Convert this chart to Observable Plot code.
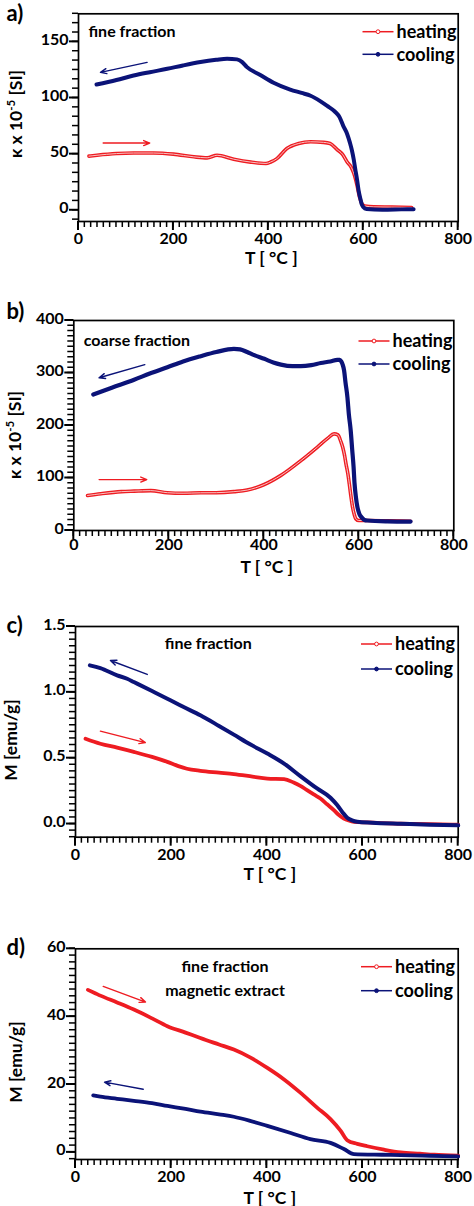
<!DOCTYPE html>
<html>
<head>
<meta charset="utf-8">
<script src="https://cdn.jsdelivr.net/npm/d3@7"></script>
<script src="https://cdn.jsdelivr.net/npm/@observablehq/plot@0.6"></script>
<style>
  html, body { margin: 0; padding: 0; background: #fff; }
  #root { width: 474px; }
  #root svg { display: block; }
</style>
</head>
<body>
<div id="root"></div>
<script>
// ---------------- data ----------------
const seriesNames = ["heating", "cooling"];
const xTicks = [0, 200, 400, 600, 800];

// a) fine fraction, susceptibility
const aHeatT = [22, 39, 80, 116, 158, 200, 243, 271, 292, 327, 363, 395, 405, 418, 439, 464, 489, 516, 530, 545, 556, 566, 575, 580, 587, 592, 597, 603, 622, 660, 702];
const aHeatK = [48.2, 49, 50.5, 51, 51, 50, 47.6, 46.7, 49, 45.5, 42.9, 41.7, 43, 46, 55, 59.5, 61, 60.5, 59.5, 54, 50, 43, 38, 33, 22, 12, 6, 3.8, 3, 2.8, 2.5];
const aCoolT = [38, 80, 116, 150, 187, 220, 257, 290, 313, 334, 345, 355, 383, 411, 446, 470, 489, 510, 524, 540, 550, 558, 566, 572, 576, 580, 583, 587, 590, 594, 597, 600, 607, 640, 680, 706];
const aCoolK = [112, 116, 120, 123, 126, 129, 132, 134, 135, 134.4, 132, 127.5, 120.5, 113.6, 107.5, 104.5, 102, 97, 93, 88, 83, 75, 68, 60, 53.5, 45, 37, 27, 18, 10, 5, 3, 1.2, 0.5, 0.8, 1];

// b) coarse fraction, susceptibility
const bHeatT = [29, 57, 100, 127, 162, 197, 230, 267, 300, 337, 365, 401, 436, 478, 513, 535, 548, 556, 562, 566, 570, 573, 577, 580, 583, 587, 590, 594, 600, 618, 660, 709];
const bHeatK = [66.7, 70, 74, 75, 76, 72, 71, 71.8, 72, 74, 77, 87.6, 105, 133, 159, 176, 184, 182, 170, 159, 143, 127, 108, 89, 68, 44, 32, 22, 19, 19, 18.5, 17.7];
const bCoolT = [41, 80, 127, 160, 197, 230, 267, 300, 337, 350, 365, 380, 401, 420, 436, 460, 478, 500, 520, 540, 555, 560, 563, 566, 569, 572, 576, 579, 583, 586, 589, 591, 594, 597, 601, 606, 612, 618, 660, 709];
const bCoolK = [259, 272, 287, 299, 311, 322, 332, 340, 346, 345, 340, 334, 327, 320, 316, 313, 313, 315, 319, 322, 325, 325, 322, 316, 305, 282, 254, 222, 190, 155, 121, 90, 63, 45, 32, 25, 20, 19, 17.5, 17];

// c) fine fraction, magnetisation
const cHeatT = [21, 52, 87, 122, 160, 192, 215, 233, 261, 300, 331, 370, 401, 436, 456, 470, 484, 498, 512, 526, 540, 550, 561, 571, 582, 610, 680, 740, 800];
const cHeatM = [0.648, 0.61, 0.58, 0.548, 0.51, 0.472, 0.44, 0.42, 0.404, 0.39, 0.379, 0.36, 0.345, 0.341, 0.315, 0.29, 0.257, 0.225, 0.194, 0.15, 0.106, 0.07, 0.042, 0.027, 0.017, 0.012, 0.002, 0, -0.005];
const cCoolT = [30, 52, 87, 108, 122, 160, 192, 225, 261, 300, 331, 365, 401, 436, 470, 505, 533, 547, 558, 568, 578, 589, 620, 680, 740, 800];
const cCoolM = [1.205, 1.184, 1.129, 1.103, 1.078, 1.01, 0.952, 0.89, 0.826, 0.745, 0.679, 0.605, 0.535, 0.459, 0.364, 0.27, 0.2, 0.144, 0.09, 0.048, 0.028, 0.017, 0.01, 0.002, -0.005, -0.01];

// d) fine fraction magnetic extract, magnetisation
const dHeatT = [26, 40, 52, 87, 122, 160, 192, 230, 261, 300, 331, 365, 401, 436, 470, 505, 533, 554, 568, 589, 610, 645, 680, 720, 750, 800];
const dHeatM = [47.9, 47, 46.2, 44.2, 42.1, 39.5, 37.2, 35.3, 33.7, 31.8, 30.3, 28, 24.9, 21.5, 17.6, 13.2, 9.8, 6.4, 3.6, 2.5, 1.8, 0.8, 0, -0.4, -0.7, -1.0];
const dCoolT = [37, 52, 87, 122, 160, 192, 230, 261, 300, 331, 365, 401, 450, 491, 533, 561, 582, 640, 680, 740, 800];
const dCoolM = [16.8, 16.4, 15.8, 15.2, 14.5, 13.7, 12.8, 12.0, 11.2, 10.5, 9.3, 7.8, 5.7, 3.9, 2.8, 1.0, -0.5, -0.7, -0.8, -1.0, -1.2];

// arrows [x1, y1, x2, y2]
const aArrowHeat = [52, 59.9, 150, 59.9];
const aArrowCool = [144.6, 131.7, 46.3, 122.8];
const bArrowHeat = [53.3, 97, 153.7, 97];
const bArrowCool = [149.5, 316, 53.3, 291];
const cArrowHeat = [52, 0.705, 146, 0.618];
const cArrowCool = [150, 1.136, 73, 1.242];
const dArrowHeat = [57.9, 48.9, 146.4, 44.3];
const dArrowCool = [141.5, 18.6, 60.6, 20.7];

const panelLetters = ["a)", "b)", "c)", "d)"];
const xTitle = "T [ \u00B0C ]";
const yTitles = [["\u03BA x 10", "-5", " [SI]"], ["\u03BA x 10", "-5", " [SI]"], ["M [emu/g]"], ["M [emu/g]"]];
const notesA = ["fine fraction"];
const notesB = ["coarse fraction"];
const notesC = ["fine fraction"];
const notesD = ["fine fraction", "magnetic extract"];

// ---------------- drawing ----------------
const FONT = "Lato, 'Open Sans', 'DejaVu Sans', sans-serif";
const RED = "#ee1c22";
const NAVY = "#0b1378";

function rows(T, V) { return T.map((t, i) => ({T: t, v: V[i]})); }
function minor(domain, step) { return d3.range(Math.ceil(domain[0] / step - 1e-9) * step, domain[1] + 1e-9, step); }

function panel(cfg) {
  const [mt, mr, mb, ml] = cfg.margin;
  const heat = rows(cfg.heatT, cfg.heatV);
  const cool = rows(cfg.coolT, cfg.coolV);
  const arrows = [
    {x1: cfg.arrowHeat[0], y1: cfg.arrowHeat[1], x2: cfg.arrowHeat[2], y2: cfg.arrowHeat[3], c: RED},
    {x1: cfg.arrowCool[0], y1: cfg.arrowCool[1], x2: cfg.arrowCool[2], y2: cfg.arrowCool[3], c: NAVY}
  ];
  const marks = [
    Plot.axisX({ticks: xTicks, tickSize: 0, tickPadding: 6 + cfg.xPad, tickFormat: d3.format("d"), label: null, fontSize: 16, fontWeight: "bold"}),
    Plot.axisY({ticks: cfg.yTicks, tickSize: 0, tickPadding: 10, tickFormat: cfg.yFormat, label: null, dy: -2, fontSize: 16, fontWeight: "bold"}),
    Plot.frame({stroke: "#000", strokeWidth: 1.7}),
    Plot.arrow(arrows, {x1: "x1", y1: "y1", x2: "x2", y2: "y2", stroke: "c", strokeWidth: 1.4, headLength: 7, headAngle: 45}),
    Plot.line(heat, {x: "T", y: "v", stroke: RED, strokeWidth: cfg.heatWidth, curve: "monotone-x"}),
  ];
  if (cfg.hollow) {
    marks.push(Plot.line(heat, {x: "T", y: "v", stroke: "#f8c4c4", strokeWidth: 1, curve: "monotone-x"}));
  }
  marks.push(Plot.line(cool, {x: "T", y: "v", stroke: NAVY, strokeWidth: cfg.coolWidth, curve: "monotone-x"}));
  cfg.notes.forEach((txt, i) => {
    marks.push(Plot.text([txt], {frameAnchor: "top-left", textAnchor: cfg.noteAnchor, lineAnchor: "middle",
      dx: cfg.noteX - ml, dy: cfg.noteY[i] - mt, fontSize: 16, fontWeight: "bold", fill: "#000"}));
  });
  marks.push(Plot.text([cfg.letter], {frameAnchor: "top-left", textAnchor: "start", lineAnchor: "middle",
    dx: 6 - ml, dy: cfg.letterY - mt, fontSize: 22, fontWeight: "bold", fill: "#000"}));
  marks.push(Plot.text([xTitle], {frameAnchor: "bottom", lineAnchor: "middle", dx: 3, dy: cfg.xTitleDy, fontSize: 17.5, fontWeight: "bold", fill: "#000"}));

  const svg = Plot.plot({
    width: 474,
    height: cfg.height,
    marginTop: mt, marginRight: mr, marginBottom: mb, marginLeft: ml,
    x: {domain: [0, 800]},
    y: {domain: cfg.yDomain},
    style: {fontFamily: FONT, fontSize: "16px", fontWeight: "bold", color: "#000", background: "#fff", overflow: "visible"},
    marks
  });

  const sel = d3.select(svg);
  // outward minor/major tick marks positioned with the plot's own scales
  const sx = svg.scale("x"), sy = svg.scale("y");
  const bottom = cfg.height - mb, left = ml;
  const tg = sel.append("g").attr("stroke", "#000").attr("fill", "none");
  minor([0, 800], 200 / 15).forEach(v => {
    const x = sx.apply(v);
    tg.append("path").attr("d", `M${x},${bottom}v6`).attr("stroke-width", 1.5);
  });
  xTicks.forEach(v => {
    const x = sx.apply(v);
    tg.append("path").attr("d", `M${x},${bottom}v9`).attr("stroke-width", 2);
  });
  minor(cfg.yDomain, cfg.yMinor).forEach(v => {
    const y = sy.apply(v);
    tg.append("path").attr("d", `M${left},${y}h-6`).attr("stroke-width", 1.5);
  });
  cfg.yTicks.forEach(v => {
    const y = sy.apply(v);
    tg.append("path").attr("d", `M${left},${y}h-9`).attr("stroke-width", 2);
  });

  // y-axis title with superscript
  const parts = cfg.yTitle;
  const t = sel.append("text")
    .attr("transform", `translate(${cfg.yTitleX},${cfg.yTitleY}) rotate(-90)`)
    .attr("text-anchor", "middle").attr("dy", "0.35em")
    .attr("font-family", FONT).attr("font-weight", "bold").attr("font-size", 17.5).attr("fill", "#000");
  t.append("tspan").text(parts[0]);
  if (parts.length > 1) {
    t.append("tspan").attr("dy", -7).attr("font-size", 11.5).text(parts[1]);
    t.append("tspan").attr("dy", 7).text(parts[2]);
  }

  // legend
  const lg = sel.append("g").attr("font-family", FONT).attr("font-weight", "bold").attr("text-anchor", "start");
  seriesNames.forEach((name, i) => {
    const y = cfg.legendY[i];
    const color = i === 0 ? RED : NAVY;
    lg.append("line").attr("x1", cfg.legendX).attr("x2", cfg.legendX + 31).attr("y1", y).attr("y2", y)
      .attr("stroke", color).attr("stroke-width", 1.5);
    lg.append("circle").attr("cx", cfg.legendX + 15.5).attr("cy", y).attr("r", 1.9)
      .attr("fill", i === 0 ? "#fff" : color).attr("stroke", color).attr("stroke-width", 1);
    lg.append("text").attr("x", cfg.legendX + 34).attr("y", y).attr("dy", "0.36em")
      .attr("text-anchor", "start").attr("font-size", 18).attr("fill", "#000").text(name);
  });
  return svg;
}

const root = document.getElementById("root");

root.appendChild(panel({
  height: 290, margin: [13.3, 16.3, 69, 78],
  yDomain: [-10, 175], yTicks: [0, 50, 100, 150], yMinor: 50 / 6, yFormat: d3.format("d"),
  xPad: 5.5, heatT: aHeatT, heatV: aHeatK, coolT: aCoolT, coolV: aCoolK,
  arrowHeat: aArrowHeat, arrowCool: aArrowCool, hollow: true, heatWidth: 3.6, coolWidth: 4,
  notes: notesA, noteX: 88, noteY: [31.7], noteAnchor: "start",
  letter: panelLetters[0], letterY: 13.5, xTitleDy: 37,
  yTitle: yTitles[0], yTitleX: 16, yTitleY: 114,
  legendX: 362.5, legendY: [31.7, 54.3]
}));

root.appendChild(panel({
  height: 300, margin: [30, 20.7, 60, 73.3],
  yDomain: [0, 400], yTicks: [0, 100, 200, 300, 400], yMinor: 10, yFormat: d3.format("d"),
  xPad: 2.5, heatT: bHeatT, heatV: bHeatK, coolT: bCoolT, coolV: bCoolK,
  arrowHeat: bArrowHeat, arrowCool: bArrowCool, hollow: true, heatWidth: 3.6, coolWidth: 4.2,
  notes: notesB, noteX: 83.3, noteY: [50.7], noteAnchor: "start",
  letter: panelLetters[1], letterY: 21.5, xTitleDy: 37,
  yTitle: yTitles[1], yTitleX: 15, yTitleY: 145,
  legendX: 358.5, legendY: [51, 74]
}));

root.appendChild(panel({
  height: 300, margin: [36, 16.3, 53.3, 75],
  yDomain: [-0.1, 1.5], yTicks: [0, 0.5, 1.0, 1.5], yMinor: 0.05, yFormat: d3.format(".1f"),
  xPad: 5, heatT: cHeatT, heatV: cHeatM, coolT: cCoolT, coolV: cCoolM,
  arrowHeat: cArrowHeat, arrowCool: cArrowCool, hollow: false, heatWidth: 3.8, coolWidth: 4,
  notes: notesC, noteX: 207.8, noteY: [53.3], noteAnchor: "middle",
  letter: panelLetters[2], letterY: 35, xTitleDy: 37.3,
  yTitle: yTitles[2], yTitleX: 11, yTitleY: 150,
  legendX: 361, legendY: [54, 79]
}));

root.appendChild(panel({
  height: 316, margin: [58.3, 16.3, 47, 75],
  yDomain: [-2.1, 60], yTicks: [0, 20, 40, 60], yMinor: 2, yFormat: d3.format("d"),
  xPad: 5, heatT: dHeatT, heatV: dHeatM, coolT: dCoolT, coolV: dCoolM,
  arrowHeat: dArrowHeat, arrowCool: dArrowCool, hollow: false, heatWidth: 3.8, coolWidth: 3.8,
  notes: notesD, noteX: 224.5, noteY: [76, 100], noteAnchor: "middle",
  letter: panelLetters[3], letterY: 57, xTitleDy: 38.5,
  yTitle: yTitles[3], yTitleX: 16, yTitleY: 172,
  legendX: 361, legendY: [76.7, 100.7]
}));
</script>
</body>
</html>
